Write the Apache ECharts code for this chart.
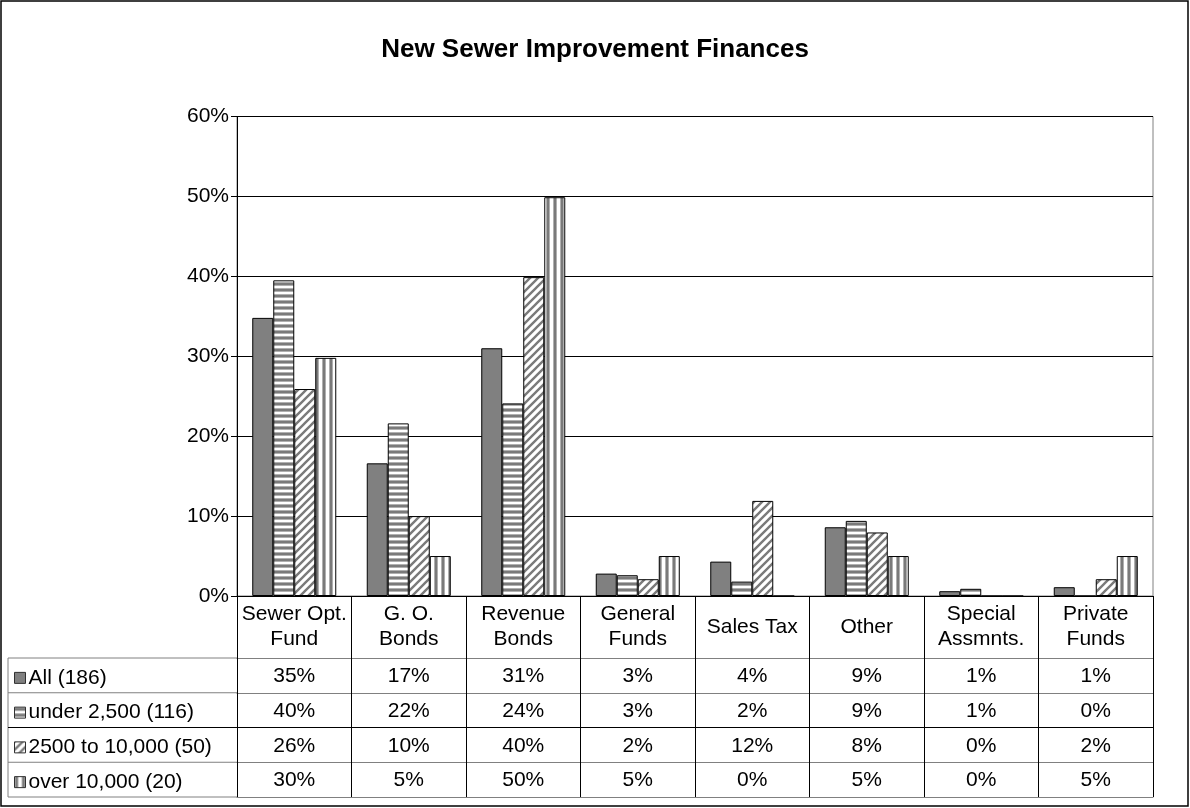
<!DOCTYPE html>
<html>
<head>
<meta charset="utf-8">
<script src="https://cdn.jsdelivr.net/npm/echarts@6/dist/echarts.min.js"></script>
<style>
html,body{margin:0;padding:0;background:#fff;}
#chart{width:1190px;height:808px;}
</style>
</head>
<body>
<div id="chart"></div>
<script>
// ---------- data ----------
const titleText = 'New Sewer Improvement Finances';
const categories = ['Sewer Opt.\nFund', 'G. O.\nBonds', 'Revenue\nBonds', 'General\nFunds', 'Sales Tax', 'Other', 'Special\nAssmnts.', 'Private\nFunds'];
const seriesNames = ['All (186)', 'under 2,500 (116)', '2500 to 10,000 (50)', 'over 10,000 (20)'];
const allVals   = [34.8, 16.6, 31.0, 2.8, 4.3, 8.6, 0.6, 1.1];
const under2500 = [39.5, 21.6, 24.1, 2.6, 1.8, 9.4, 0.9, 0.0];
const mid2500   = [25.9, 10.0, 39.9, 2.1, 11.9, 7.95, 0.0, 2.1];
const over10000 = [29.8, 5.0, 49.9, 5.0, 0.0, 5.0, 0.0, 5.0];
const yMin = 0, yMax = 60, yStep = 10;

const seriesValues = [allVals, under2500, mid2500, over10000];
const pct = v => Math.round(v) + '%';

// ---------- patterns ----------
function mk(w, h, draw) {
  const c = document.createElement('canvas');
  c.width = w; c.height = h;
  const g = c.getContext('2d');
  g.fillStyle = '#ffffff'; g.fillRect(0, 0, w, h);
  draw(g);
  return { image: c, repeat: 'repeat' };
}
const solidGray = '#808080';
const hStripes = mk(6, 6, g => {
  g.fillStyle = '#b0b0b0'; g.fillRect(0, 0, 6, 1);
  g.fillStyle = '#7a7a7a'; g.fillRect(0, 1, 6, 2);
  g.fillStyle = '#b0b0b0'; g.fillRect(0, 3, 6, 1);
});
const vStripes = mk(7, 7, g => {
  g.fillStyle = '#b0b0b0'; g.fillRect(0, 0, 1, 7);
  g.fillStyle = '#7a7a7a'; g.fillRect(1, 0, 2, 7);
  g.fillStyle = '#b0b0b0'; g.fillRect(3, 0, 1, 7);
});
const dStripes = mk(8, 8, g => {
  g.strokeStyle = '#7a7a7a'; g.lineWidth = 2.4;
  g.beginPath();
  g.moveTo(-2, 10); g.lineTo(10, -2);
  g.moveTo(-6, 6); g.lineTo(6, -6);
  g.moveTo(2, 14); g.lineTo(14, 2);
  g.stroke();
});
const fills = [solidGray, hStripes, dStripes, vStripes];

// ---------- layout ----------
const W = 1190, H = 808;
const gridLeft = 237, gridRight = 1153, gridTop = 116.5, gridBottom = 596;
const headerH = 62, rowH = 34.75;
const tableLeft = 8;
const rowLines = [0, 1, 2, 3, 4].map(i => gridBottom + headerH + i * rowH);
const tableBottom = rowLines[4];
const fs = 21;

const font = 'Liberation Sans, Arial, sans-serif';

const xAxes = [{
  type: 'category', data: categories, gridIndex: 0, position: 'bottom',
  axisLine: { show: true, lineStyle: { color: '#000', width: 1 } },
  axisTick: { show: true, length: tableBottom - gridBottom, lineStyle: { color: '#000', width: 1 } },
  axisLabel: { interval: 0, fontSize: fs, lineHeight: 25, color: '#000', fontFamily: font, margin: headerH / 2, verticalAlign: 'middle' },
  splitLine: { show: false }
}];
seriesValues.forEach((vals, k) => {
  xAxes.push({
    type: 'category', data: categories, gridIndex: 0, position: 'bottom',
    offset: headerH + k * rowH,
    axisLine: { show: true, lineStyle: { color: k === 2 ? '#000' : '#808080', width: 1 } },
    axisTick: { show: false },
    axisLabel: { interval: 0, fontSize: fs, color: '#000', fontFamily: font, margin: rowH / 2 + 1, verticalAlign: 'middle',
      formatter: (v, i) => pct(vals[i]) },
    splitLine: { show: false }
  });
});
xAxes.push({
  type: 'category', data: categories, gridIndex: 0, position: 'bottom',
  offset: tableBottom - gridBottom,
  axisLine: { show: true, lineStyle: { color: '#808080', width: 1 } },
  axisTick: { show: false }, axisLabel: { show: false }, splitLine: { show: false }
});

const legends = seriesNames.map((name, k) => ({
  data: [{ name: name, icon: 'rect' }], orient: 'vertical',
  left: tableLeft + 1, top: rowLines[k] + rowH / 2 - 13,
  itemWidth: 11, itemHeight: 11, itemGap: 0,
  selectedMode: false,
  textStyle: { fontSize: fs, color: '#000', fontFamily: font, padding: [0, 0, 0, -2] },
  itemStyle: { borderColor: '#303030', borderWidth: 1 }
}));

const graphicEls = [
  { type: 'rect', shape: { x: 1, y: 1, width: 1187, height: 805 }, style: { fill: 'none', stroke: '#000', lineWidth: 1.5 }, silent: true },
  { type: 'line', shape: { x1: tableLeft, y1: rowLines[0], x2: tableLeft, y2: tableBottom }, style: { stroke: '#808080', lineWidth: 1 }, silent: true }
];
rowLines.forEach((y, i) => graphicEls.push({ type: 'line', shape: { x1: tableLeft, y1: y, x2: gridLeft, y2: y }, style: { stroke: i === 2 ? '#000' : '#808080', lineWidth: 1 }, silent: true }));

const chart = echarts.init(document.getElementById('chart'), null, { renderer: 'canvas' });
chart.setOption({
  backgroundColor: '#ffffff',
  animation: false,
  textStyle: { fontFamily: font },
  title: { text: titleText, left: 'center', top: 32, textStyle: { fontSize: 26, fontWeight: 'bold', color: '#000', fontFamily: font } },
  legend: legends,
  grid: { left: gridLeft, right: W - gridRight, top: gridTop, bottom: H - gridBottom, show: true, borderColor: '#808080', borderWidth: 1, containLabel: false },
  xAxis: xAxes,
  yAxis: {
    type: 'value', min: yMin, max: yMax, interval: yStep,
    axisLine: { show: true, lineStyle: { color: '#000', width: 1 } },
    axisTick: { show: true, length: 6, lineStyle: { color: '#000' } },
    axisLabel: { formatter: '{value}%', fontSize: fs, color: '#000', fontFamily: font, margin: 8 },
    splitLine: { show: true, lineStyle: { color: '#000', width: 1 } }
  },
  graphic: graphicEls,
  series: seriesNames.map((name, k) => ({
    name: name, type: 'bar', xAxisIndex: 0, data: seriesValues[k],
    barWidth: 21, barGap: '0%',
    itemStyle: { color: fills[k], borderColor: '#000', borderWidth: 1 },
    emphasis: { disabled: true }
  }))
});
</script>
</body>
</html>
